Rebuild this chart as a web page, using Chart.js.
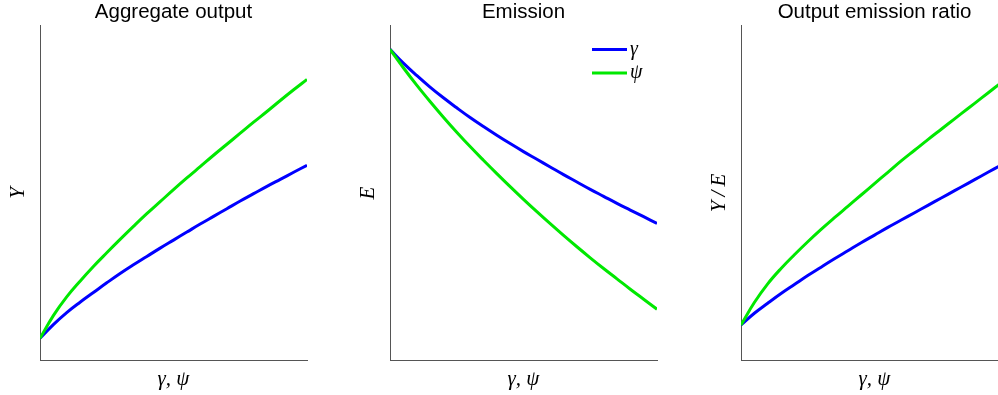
<!DOCTYPE html>
<html>
<head>
<meta charset="utf-8">
<script src="https://cdn.jsdelivr.net/npm/chart.js@4/dist/chart.umd.min.js"></script>
<style>
  html, body { margin: 0; padding: 0; background: #fff; overflow: hidden; }
  body { width: 998px; height: 395px; position: relative; }
  .panel { position: absolute; top: 0; width: 317px; height: 395px; }
</style>
</head>
<body>
<div class="panel" style="left:0px"><canvas id="c1"></canvas></div>
<div class="panel" style="left:350px"><canvas id="c2"></canvas></div>
<div class="panel" style="left:701px"><canvas id="c3"></canvas></div>
<script>
// gamma / psi grid (shared x values)
const xs = [0, 0.05, 0.1, 0.15, 0.2, 0.25, 0.3, 0.35, 0.4, 0.45, 0.5,
            0.55, 0.6, 0.65, 0.7, 0.75, 0.8, 0.85, 0.9, 0.95, 1];

// Aggregate output Y
const outputGamma = [6.5, 10.6, 14.2, 17.3, 20.2, 23.1, 25.9, 28.5, 31.0, 33.5, 35.9,
                     38.3, 40.7, 43.0, 45.3, 47.6, 49.8, 52.0, 54.1, 56.2, 58.3];
const outputPsi   = [6.5, 13.3, 18.9, 23.6, 28.0, 32.1, 36.1, 40.0, 43.8, 47.4, 51.0,
                     54.5, 57.9, 61.3, 64.6, 67.9, 71.2, 74.4, 77.7, 80.9, 84.0];

// Emission E
const emissionGamma = [93.0, 88.9, 85.2, 81.7, 78.5, 75.5, 72.6, 69.9, 67.3, 64.8, 62.4,
                       60.1, 57.8, 55.5, 53.3, 51.1, 49.0, 46.9, 44.9, 42.9, 40.9];
const emissionPsi   = [93.0, 87.5, 82.3, 77.4, 72.7, 68.2, 63.9, 59.8, 55.8, 51.9, 48.1,
                       44.4, 40.8, 37.3, 33.9, 30.6, 27.4, 24.3, 21.2, 18.2, 15.2];

// Output emission ratio Y/E
const ratioGamma = [10.5, 14.0, 17.0, 19.9, 22.6, 25.3, 27.8, 30.3, 32.7, 35.1, 37.4,
                    39.7, 41.9, 44.1, 46.3, 48.5, 50.7, 52.9, 55.1, 57.3, 59.5];
const ratioPsi   = [10.5, 17.2, 22.8, 27.4, 31.5, 35.4, 39.1, 42.6, 46.0, 49.4, 52.8,
                    56.2, 59.6, 62.8, 66.0, 69.1, 72.2, 75.3, 78.4, 81.5, 84.6];

const titles = ['Aggregate output', 'Emission', 'Output emission ratio'];
const yLabels = ['Y', 'E', 'Y\u2009/\u2009E'];
const xLabel = 'γ, ψ';
const seriesLabels = ['γ', 'ψ'];

const BLUE = '#0000ff';
const GREEN = '#00e800';
const mathFont = { family: '"Liberation Serif", "DejaVu Serif", serif', style: 'italic', size: 21 };

// legend drawn inside the plot, top right (only on the emission panel)
const innerLegend = {
  id: 'innerLegend',
  afterDraw(chart, args, opts) {
    if (!opts.show) return;
    const { ctx, chartArea } = chart;
    ctx.save();
    chart.data.datasets.forEach((ds, i) => {
      const y = chartArea.top + 23.5 + i * 23.4;
      ctx.strokeStyle = ds.borderColor;
      ctx.lineWidth = 3;
      ctx.beginPath();
      ctx.moveTo(chartArea.right - 65, y);
      ctx.lineTo(chartArea.right - 30, y);
      ctx.stroke();
      ctx.fillStyle = '#000';
      ctx.font = 'italic 20px "Liberation Serif", "DejaVu Serif", serif';
      ctx.textBaseline = 'middle';
      ctx.fillText(ds.label, chartArea.right - 27, y);
    });
    ctx.restore();
  }
};

function pts(vals) {
  return xs.map((x, i) => ({ x, y: vals[i] }));
}

function makeChart(id, idx, gammaVals, psiVals, showLegend) {
  return new Chart(document.getElementById(id), {
    type: 'line',
    data: {
      datasets: [
        { label: seriesLabels[0], data: pts(gammaVals), borderColor: BLUE, backgroundColor: BLUE,
          borderWidth: 3, pointRadius: 0, tension: 0.4, order: 1 },
        { label: seriesLabels[1], data: pts(psiVals), borderColor: GREEN, backgroundColor: GREEN,
          borderWidth: 3, pointRadius: 0, tension: 0.4, order: 0 }
      ]
    },
    options: {
      responsive: true,
      maintainAspectRatio: false,
      animation: false,
      layout: { padding: { left: 0, right: 10, top: 0, bottom: 0 } },
      plugins: {
        legend: { display: false },
        tooltip: { enabled: false },
        title: {
          display: true,
          text: titles[idx],
          fullSize: false,
          color: '#000',
          font: { family: '"Liberation Sans", Arial, sans-serif', size: 20.5, weight: 'normal', lineHeight: 1.2 },
          padding: { top: 0, bottom: 1.4 }
        },
        innerLegend: { show: showLegend }
      },
      scales: {
        x: {
          type: 'linear',
          min: 0,
          max: 1,
          grid: { display: false },
          border: { display: true, color: '#555', width: 1 },
          ticks: { display: false },
          title: { display: true, text: xLabel, color: '#000', font: mathFont, padding: 3 },
          afterFit(s) { s.height = 35; }
        },
        y: {
          min: 0,
          max: 100,
          grid: { display: false },
          border: { display: true, color: '#555', width: 1 },
          ticks: { display: false },
          title: { display: true, text: yLabels[idx], color: '#000', font: mathFont, padding: 6 },
          afterFit(s) { s.width = 40; }
        }
      }
    },
    plugins: [innerLegend]
  });
}

makeChart('c1', 0, outputGamma, outputPsi, false);
makeChart('c2', 1, emissionGamma, emissionPsi, true);
makeChart('c3', 2, ratioGamma, ratioPsi, false);
</script>
</body>
</html>
